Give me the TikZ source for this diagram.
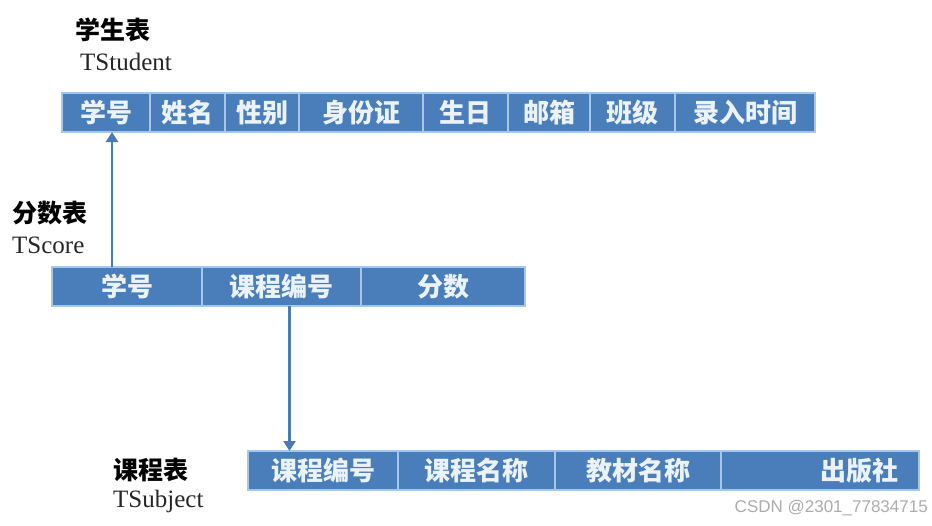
\documentclass[tikz,border=0pt]{standalone}
\usepackage{fontspec}
\setmainfont{Liberation Serif}
\newfontfamily\cjk{Noto Sans CJK SC}
\newfontfamily\marksans{Liberation Sans}
\usetikzlibrary{arrows.meta,positioning}
\definecolor{tableblue}{RGB}{74,126,187}
\definecolor{gridblue}{RGB}{168,198,232}
\definecolor{fieldtext}{RGB}{236,242,250}
\definecolor{linkblue}{RGB}{72,122,184}
\definecolor{markgray}{RGB}{172,172,172}

\begin{document}
\begin{tikzpicture}[x=1pt, y=-1pt,
    fieldbox/.style={draw=gridblue, line width=1.2pt, fill=tableblue, text=fieldtext,
      minimum height=39pt, inner sep=0pt, outer sep=0pt,
      font=\cjk\bfseries\fontsize{26}{28}\selectfont},
    tabletitle/.style={anchor=west, inner sep=0pt, font=\cjk\bfseries\fontsize{25}{28}\selectfont},
    tablecode/.style={anchor=west, inner sep=0pt, text=black!85, font=\fontsize{25}{28}\selectfont},
    fkarrow/.style={line width=2.6pt, linkblue, -{Triangle[length=10pt,width=12pt]}}]
  \useasboundingbox (0,0) rectangle (932,525);

  % Student table
  \node[tabletitle] (stname) at (75,30) {学生表};
  \node[tablecode] (stcode) at (80,62) {TStudent};
  \node[fieldbox, anchor=north west, minimum width=88pt] (st1) at (62,93) {学号};
  \node[fieldbox, minimum width=75pt, right=0pt of st1] (st2) {姓名};
  \node[fieldbox, minimum width=74pt, right=0pt of st2] (st3) {性别};
  \node[fieldbox, minimum width=124pt, right=0pt of st3] (st4) {身份证};
  \node[fieldbox, minimum width=85pt, right=0pt of st4] (st5) {生日};
  \node[fieldbox, minimum width=82pt, right=0pt of st5] (st6) {邮箱};
  \node[fieldbox, minimum width=85pt, right=0pt of st6] (st7) {班级};
  \node[fieldbox, minimum width=140pt, right=0pt of st7] (st8) {录入时间};

  % Score table
  \node[tabletitle] (scname) at (12,213) {分数表};
  \node[tablecode] (sccode) at (12,245) {TScore};
  \node[fieldbox, anchor=north west, minimum width=150pt] (sc1) at (52,267) {学号};
  \node[fieldbox, minimum width=159pt, right=0pt of sc1] (sc2) {课程编号};
  \node[fieldbox, minimum width=164pt, right=0pt of sc2] (sc3) {分数};

  % Subject table
  \node[tabletitle] (sbname) at (113,470) {课程表};
  \node[tablecode] (sbcode) at (113,501) {TSubject};
  \node[fieldbox, anchor=north west, minimum width=150pt] (sb1) at (248,451) {课程编号};
  \node[fieldbox, minimum width=157pt, right=0pt of sb1] (sb2) {课程名称};
  \node[fieldbox, minimum width=166pt, right=0pt of sb2] (sb3) {教材名称};
  \node[fieldbox, minimum width=198pt, text width=156pt, align=right, right=0pt of sb3] (sb4) {出版社};

  % Foreign keys
  \draw[fkarrow] ([xshift=-15pt]sc1.north) -- ([xshift=-15pt]sc1.north |- st1.south);
  \draw[fkarrow] ([xshift=8pt]sc2.south) -- ([xshift=8pt]sc2.south |- sb1.north);

  \node[anchor=east, inner sep=0pt, text=markgray, font=\marksans\fontsize{17}{20}\selectfont] (mark) at (928,508) {CSDN @2301\_77834715};
\end{tikzpicture}
\end{document}
